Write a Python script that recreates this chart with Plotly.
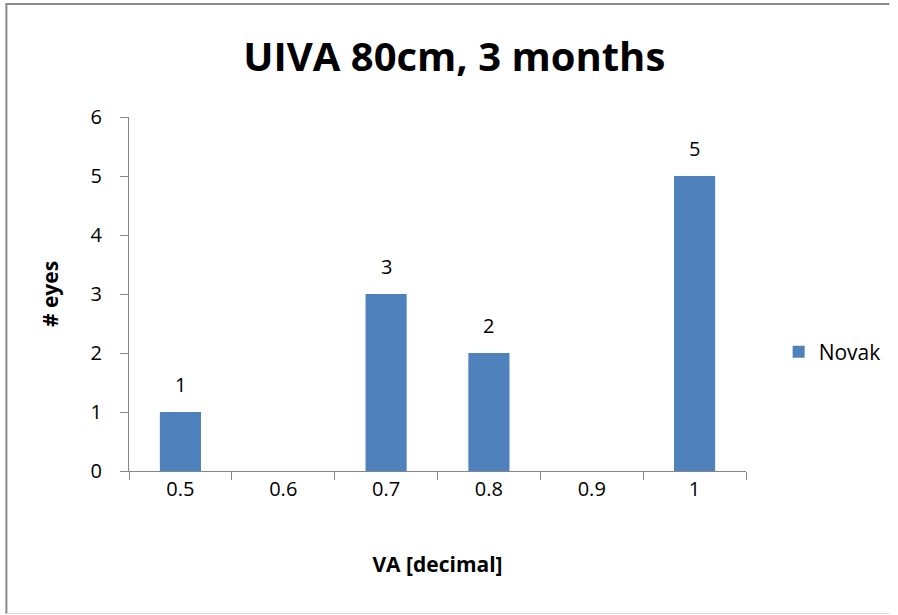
import plotly.graph_objects as go

# Distribution of uncorrected intermediate visual acuity at 80 cm, 3 months
va_levels = ["0.5", "0.6", "0.7", "0.8", "0.9", "1"]
eye_counts = [1, 0, 3, 2, 0, 5]
series_name = "Novak"

W, H = 898, 615
L, R, T, B = 129, 145, 117, 144
PW, PH = W - L - R, H - T - B


def px_x(px):
    return (px - L) / PW


def px_y(py):
    return (H - B - py) / PH


FONT = "Open Sans"

fig = go.Figure()
fig.add_trace(go.Bar(
    x=va_levels,
    y=eye_counts,
    name=series_name,
    marker=dict(color="#4F81BD", line=dict(width=0)),
    showlegend=True,
))

# value labels above the non-empty bars (category axis positions are indices)
annotations = []
for idx, val in enumerate(eye_counts):
    if val > 0:
        annotations.append(dict(
            x=idx, y=val, xref="x", yref="y",
            text=str(val), showarrow=False,
            yanchor="bottom", yshift=12,
            font=dict(family=FONT, size=20, color="#000000"),
        ))

fig.update_layout(
    width=W, height=H,
    margin=dict(l=L, r=R, t=T, b=B),
    paper_bgcolor="white",
    plot_bgcolor="white",
    bargap=0.6,
    title=dict(
        text="<b>UIVA 80cm, 3 months</b>",
        x=px_x(458), xref="paper", xanchor="center",
        y=1 - 57 / H, yref="container", yanchor="middle",
        font=dict(family=FONT, size=40, color="#000000"),
    ),
    xaxis=dict(
        type="category",
        showline=True, linecolor="#868686", linewidth=1,
        ticks="outside", tickson="boundaries", ticklen=8, tickcolor="#868686",
        tickfont=dict(family=FONT, size=20, color="#000000"),
        showgrid=False, zeroline=False,
        title=dict(text="<b>VA [decimal]</b>", standoff=56,
                   font=dict(family=FONT, size=21, color="#000000")),
    ),
    yaxis=dict(
        range=[0, 6], dtick=1,
        showline=True, linecolor="#868686", linewidth=1,
        ticks="outside", ticklen=8, tickcolor="#868686",
        tickfont=dict(family=FONT, size=20, color="#000000"),
        ticklabelstandoff=14,
        showgrid=False, zeroline=False,
        title=dict(text="<b># eyes</b>", standoff=26,
                   font=dict(family=FONT, size=21, color="#000000")),
    ),
    legend=dict(
        x=px_x(786), y=px_y(352), xanchor="left", yanchor="middle",
        font=dict(family=FONT, size=21, color="#000000"),
        itemwidth=30,
    ),
    annotations=annotations,
    shapes=[
        dict(type="line", xref="paper", yref="paper",
             x0=px_x(5), x1=px_x(5), y0=px_y(4), y1=px_y(614),
             line=dict(color="#8a8a8a", width=2)),
        dict(type="line", xref="paper", yref="paper",
             x0=px_x(4), x1=px_x(898), y0=px_y(4), y1=px_y(4),
             line=dict(color="#8a8a8a", width=2)),
        dict(type="line", xref="paper", yref="paper",
             x0=px_x(4), x1=px_x(898), y0=px_y(613.5), y1=px_y(613.5),
             line=dict(color="#d4d4d4", width=1)),
    ],
)

fig.write_html("out.html")
